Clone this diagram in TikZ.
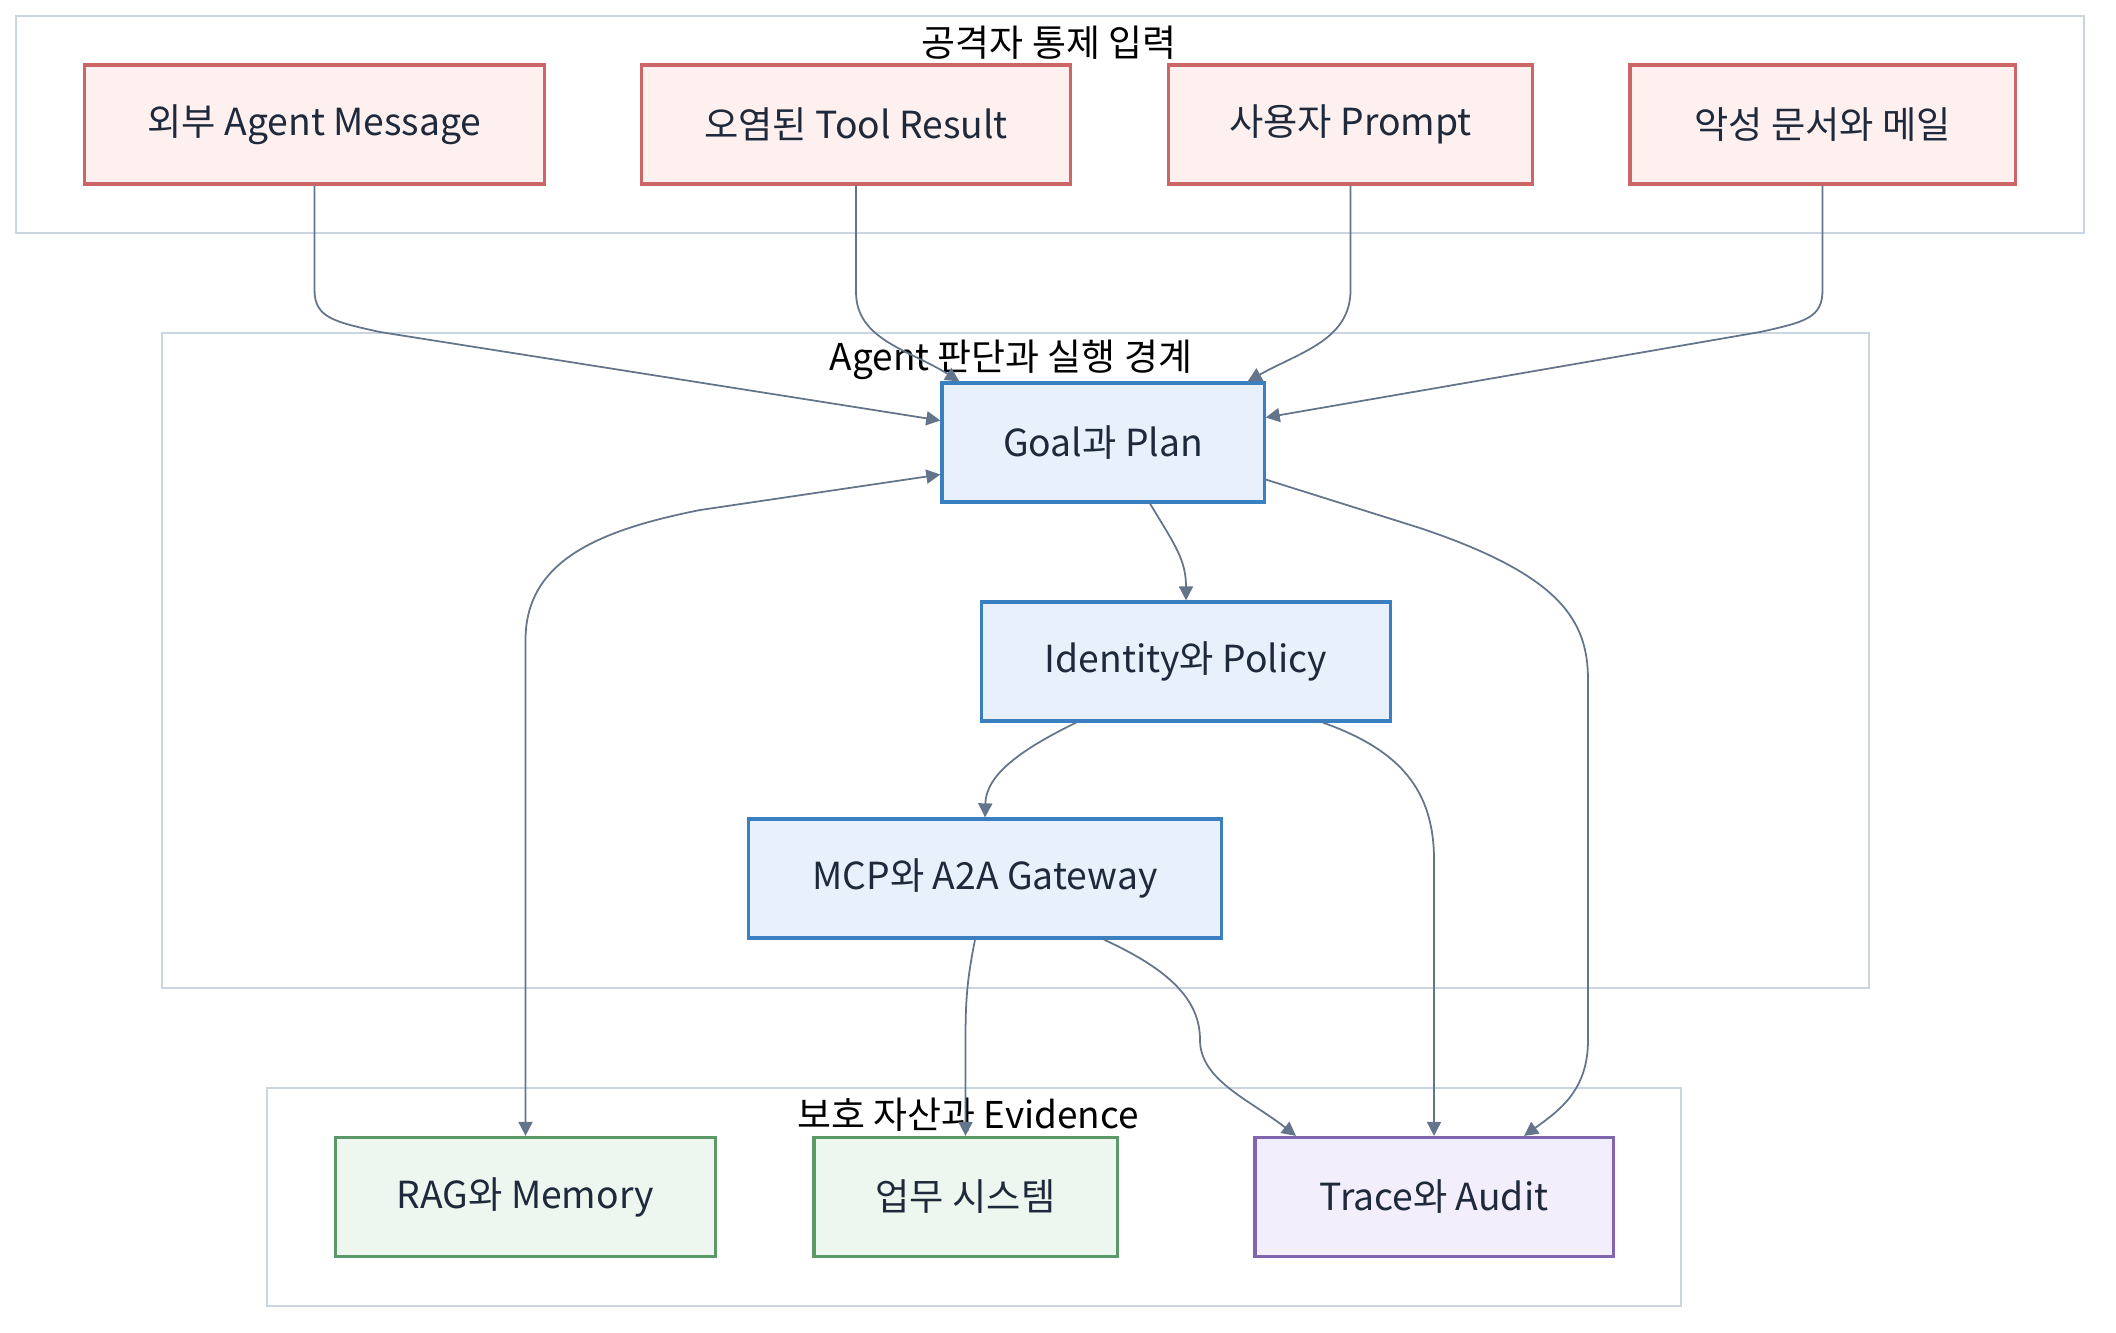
\documentclass[tikz,border=0pt]{standalone}
\usepackage{fontspec}
\setmainfont{Noto Sans CJK KR}
\usetikzlibrary{arrows.meta,calc}
\definecolor{GroupClr}{HTML}{CBD5E1}
\definecolor{EdgeClr}{HTML}{64748B}
\definecolor{TextClr}{HTML}{1E293B}
\definecolor{InputLineClr}{HTML}{CC6666}
\definecolor{InputFillClr}{HTML}{FFF0F0}
\definecolor{CoreLineClr}{HTML}{3A80C0}
\definecolor{CoreFillClr}{HTML}{E8F0FB}
\definecolor{AssetLineClr}{HTML}{5B9A68}
\definecolor{AssetFillClr}{HTML}{EEF7EF}
\definecolor{AuditLineClr}{HTML}{8066B0}
\definecolor{AuditFillClr}{HTML}{F3EEFB}

\begin{document}
\begin{tikzpicture}[x=0.01cm,y=-0.01cm,
  group/.style={draw=GroupClr,line width=0.6pt},
  grouptitle/.style={font=\fontsize{10.5}{12}\selectfont,text=black},
  box/.style={rectangle,line width=0.9pt,minimum height=1.19cm,inner sep=0pt,
    text=TextClr,font=\fontsize{10.6}{13}\selectfont},
  inbox/.style={box,draw=InputLineClr,fill=InputFillClr},
  corebox/.style={box,draw=CoreLineClr,fill=CoreFillClr},
  assetbox/.style={box,draw=AssetLineClr,fill=AssetFillClr},
  auditbox/.style={box,draw=AuditLineClr,fill=AuditFillClr},
  flow/.style={draw=EdgeClr,line width=0.5pt,-{Triangle[length=4pt,width=4pt]}},
  twoway/.style={flow,{Triangle[length=4pt,width=4pt]}-{Triangle[length=4pt,width=4pt]}}]
\useasboundingbox (0,0) rectangle (2116,1332);

\draw[group] (16,16) rectangle (2084,233);
\draw[group] (162,333) rectangle (1869,988);
\draw[group] (267,1088) rectangle (1681,1306);
\node[grouptitle] (t1) at (1049,43) {공격자 통제 입력};
\node[grouptitle] (t2) at (1011,360) {Agent 판단과 실행 경계};
\node[grouptitle] (t3) at (968,1115) {보호 자산과 Evidence};

\node[inbox,minimum width=4.59cm] (msg) at (314.5,124.5) {외부 Agent Message};
\node[inbox,minimum width=4.28cm] (tool) at (856,124.5) {오염된 Tool Result};
\node[inbox,minimum width=3.63cm] (prompt) at (1350.5,124.5) {사용자 Prompt};
\node[inbox,minimum width=3.85cm] (mail) at (1822.5,124.5) {악성 문서와 메일};

\node[corebox,minimum width=3.22cm] (goal) at (1103,442.5) {Goal과 Plan};
\node[corebox,minimum width=4.08cm] (ident) at (1186,661.5) {Identity와 Policy};
\node[corebox,minimum width=4.72cm] (gw) at (985,878.5) {MCP와 A2A Gateway};

\node[assetbox,minimum width=3.79cm] (rag) at (525.5,1197) {RAG와 Memory};
\node[assetbox,minimum width=3.03cm] (sys) at (965.5,1197) {업무 시스템};
\node[auditbox,minimum width=3.58cm] (trace) at (1434,1197) {Trace와 Audit};

\draw[flow] (msg.south) -- (314.5,290) .. controls (314.5,318) and (335,322) .. (380,332)
  -- ($(goal.west)+(0,-22)$);
\draw[flow] (tool.south) -- (856,292) .. controls (856,340) and (910,350) .. ($(goal.north west)+(19,0)$);
\draw[flow] (prompt.south) -- (1350.5,290) .. controls (1350.5,340) and (1300,352) .. ($(goal.north east)+(-18,0)$);
\draw[flow] (mail.south) -- (1822.5,290) .. controls (1822.5,318) and (1805,322) .. (1760,332)
  -- ($(goal.east)+(0,-25)$);
\draw[twoway] (rag.north) -- (525.5,640) .. controls (525.5,560) and (600,530) .. (700,510)
  -- ($(goal.west)+(0,32)$);
\draw[flow] ($(goal.south)+(47,0)$) .. controls (1175,545) and (1186,560) .. (ident.north);
\draw[flow] ($(goal.east)+(0,37)$) -- (1420,528) .. controls (1560,575) and (1588,620) .. (1588,680)
  -- (1588,1040) .. controls (1588,1090) and (1560,1110) .. ($(trace.north)+(90,0)$);
\draw[flow] ($(ident.south)+(-110,0)$) .. controls (1020,750) and (986,775) .. (gw.north);
\draw[flow] ($(ident.south)+(137,0)$) .. controls (1400,750) and (1434,790) .. (1434,860) -- (trace.north);
\draw[flow] ($(gw.south)+(-10,0)$) .. controls (967,980) and (965.5,1000) .. (965.5,1040) -- (sys.north);
\draw[flow] ($(gw.south)+(119,0)$) .. controls (1170,970) and (1200,1000) .. (1200,1040)
  .. controls (1200,1080) and (1250,1100) .. ($(trace.north)+(-138,0)$);
\end{tikzpicture}
\end{document}
